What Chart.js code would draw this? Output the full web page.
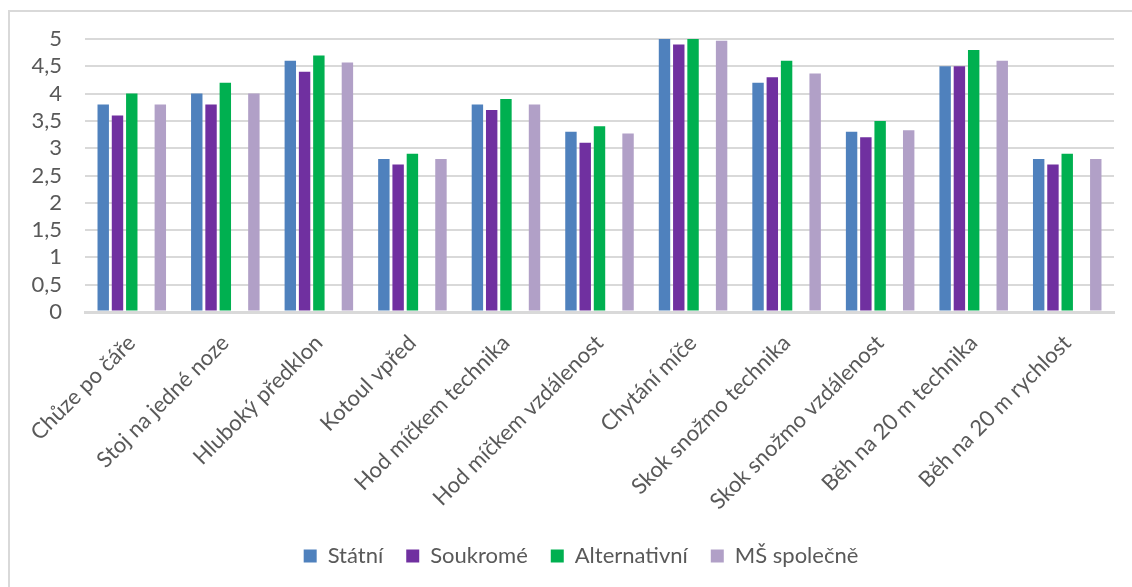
<!DOCTYPE html>
<html>
<head>
<meta charset="utf-8">
<script src="https://cdn.jsdelivr.net/npm/chart.js@4.4.1/dist/chart.umd.min.js"></script>
<style>
  html, body { margin: 0; padding: 0; background: #ffffff; overflow: hidden; }
  #wrap { position: relative; width: 1132px; height: 587px; overflow: hidden; }
  #frame { position: absolute; left: 8px; top: 10px; width: 1300px; height: 700px;
           border-left: 2px solid #d9d9d9; border-top: 2px solid #d9d9d9; }
  #c { position: absolute; left: 0; top: 0; }
</style>
</head>
<body>
<div id="wrap">
  <div id="frame"></div>
  <canvas id="c" width="1132" height="587"></canvas>
</div>
<script>
// Disciplíny (kategorie osy x)
const categories = [
  'Chůze po čáře', 'Stoj na jedné noze', 'Hluboký předklon', 'Kotoul vpřed',
  'Hod míčkem technika', 'Hod míčkem vzdálenost', 'Chytání míče',
  'Skok snožmo technika', 'Skok snožmo vzdálenost', 'Běh na 20 m technika',
  'Běh na 20 m rychlost'
];

// Průměrné hodnocení podle typu mateřské školy
const statni       = [3.8, 4.0, 4.6, 2.8, 3.8, 3.3, 5.0, 4.2, 3.3, 4.5, 2.8];
const soukrome     = [3.6, 3.8, 4.4, 2.7, 3.7, 3.1, 4.9, 4.3, 3.2, 4.5, 2.7];
const alternativni = [4.0, 4.2, 4.7, 2.9, 3.9, 3.4, 5.0, 4.6, 3.5, 4.8, 2.9];
const msSpolecne   = [3.8, 4.0, 4.57, 2.8, 3.8, 3.27, 4.97, 4.37, 3.33, 4.6, 2.8];

// Popisky osy y
const yTicks = [0, 0.5, 1, 1.5, 2, 2.5, 3, 3.5, 4, 4.5, 5];

const FONT = 'Lato, "Open Sans", sans-serif';
const TEXT = '#595959';
const GRID = '#d9d9d9';

const datasets = [
  { label: 'Státní',       data: statni,       backgroundColor: '#4f81bd' },
  { label: 'Soukromé',     data: soukrome,     backgroundColor: '#7030a0' },
  { label: 'Alternativní', data: alternativni, backgroundColor: '#00b050' },
  // prázdná skupina – mezera před souhrnným sloupcem
  { label: '',             data: [],           backgroundColor: 'rgba(0,0,0,0)' },
  { label: 'MŠ společně',  data: msSpolecne,   backgroundColor: '#b1a0c7' }
];

// posune legendu mírně doprava (střed pod celou plochou grafu)
const legendShift = {
  id: 'legendShift',
  afterLayout(chart) {
    const lg = chart.legend;
    if (lg) { lg.left += 14; lg.right += 14; }
  }
};

new Chart(document.getElementById('c'), {
  type: 'bar',
  data: { labels: categories, datasets },
  plugins: [legendShift],
  options: {
    responsive: false,
    animation: false,
    devicePixelRatio: 1,
    layout: { padding: { left: 20, right: 18, top: 39, bottom: 10 } },
    datasets: {
      bar: { categoryPercentage: 0.763, barPercentage: 0.8, borderWidth: 0 }
    },
    plugins: {
      tooltip: { enabled: false },
      legend: {
        position: 'bottom',
        labels: {
          font: { family: FONT, size: 22 },
          color: TEXT,
          boxWidth: 13,
          boxHeight: 13,
          padding: 23,
          filter: (item) => item.text !== ''
        }
      }
    },
    scales: {
      x: {
        grid: { display: false, drawTicks: false },
        border: { display: true, color: GRID, width: 3 },
        ticks: {
          autoSkip: false,
          maxRotation: 45,
          minRotation: 45,
          padding: 18,
          font: { family: FONT, size: 22 },
          color: TEXT
        },
        afterFit: (scale) => { scale.height = 210; }
      },
      y: {
        min: 0,
        max: 5,
        afterBuildTicks: (scale) => { scale.ticks = yTicks.map(v => ({ value: v })); },
        grid: {
          color: GRID,
          lineWidth: (ctx) => (ctx.tick && ctx.tick.value === 0 ? 3 : 2),
          drawTicks: false
        },
        border: { display: false },
        ticks: {
          autoSkip: false,
          padding: 23,
          font: { family: FONT, size: 22 },
          color: TEXT,
          callback: (v) => String(v).replace('.', ',')
        },
        afterFit: (scale) => { scale.width = 65; }
      }
    }
  }
});
</script>
</body>
</html>
